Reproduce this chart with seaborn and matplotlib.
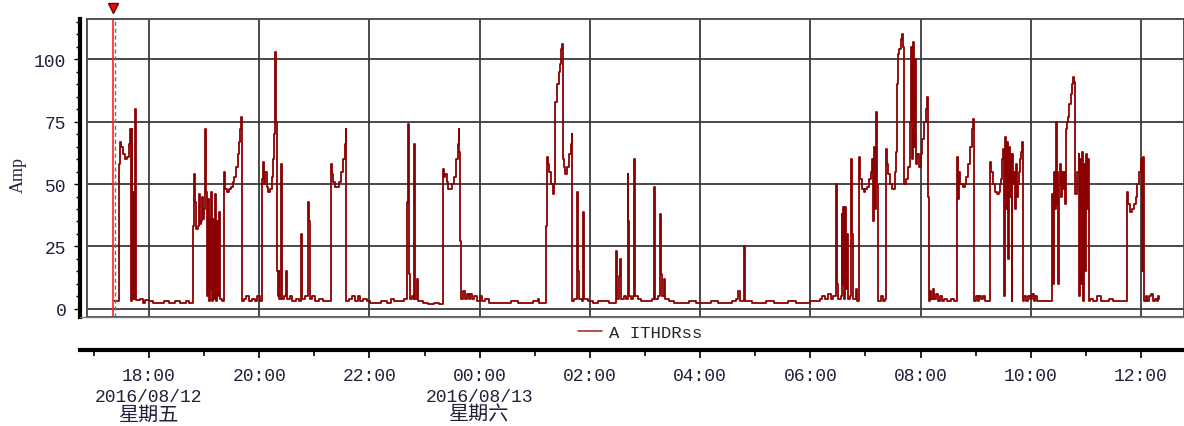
import pandas as pd
import matplotlib
matplotlib.use('Agg')
import matplotlib.pyplot as plt
import matplotlib.transforms as mtransforms
from matplotlib.lines import Line2D
import seaborn as sns

# ITHDRss readings (time of day, Amp)
times = [
    "17:22", "17:26", "17:27", "17:28", "17:30", "17:32", "17:34", "17:36", "17:38", "17:39",
    "17:40", "17:41", "17:42", "17:43", "17:44", "17:45", "17:46", "17:50", "17:53", "17:56",
    "18:00", "18:04", "18:10", "18:16", "18:22", "18:28", "18:34", "18:40", "18:44", "18:48",
    "18:49", "18:50", "18:51", "18:53", "18:54", "18:55", "18:57", "18:58", "18:59", "19:00",
    "19:01", "19:02", "19:03", "19:04", "19:05", "19:06", "19:07", "19:08", "19:09", "19:10",
    "19:11", "19:12", "19:13", "19:14", "19:15", "19:16", "19:17", "19:19", "19:22", "19:23",
    "19:25", "19:27", "19:29", "19:31", "19:33", "19:35", "19:37", "19:38", "19:39", "19:40",
    "19:41", "19:43", "19:46", "19:49", "19:52", "19:55", "19:58", "20:01", "20:03", "20:04",
    "20:05", "20:06", "20:08", "20:10", "20:12", "20:14", "20:15", "20:16", "20:17", "20:18",
    "20:19", "20:20", "20:21", "20:22", "20:24", "20:25", "20:27", "20:29", "20:30", "20:33",
    "20:36", "20:40", "20:43", "20:46", "20:47", "20:50", "20:53", "20:54", "20:55", "20:58",
    "21:01", "21:05", "21:09", "21:13", "21:18", "21:19", "21:20", "21:22", "21:25", "21:27",
    "21:29", "21:31", "21:33", "21:34", "21:35", "21:38", "21:41", "21:44", "21:47", "21:50",
    "21:53", "21:57", "22:01", "22:07", "22:13", "22:19", "22:24", "22:27", "22:33", "22:38",
    "22:41", "22:42", "22:43", "22:44", "22:46", "22:48", "22:49", "22:50", "22:52", "22:53",
    "22:58", "23:04", "23:10", "23:16", "23:20", "23:21", "23:22", "23:24", "23:26", "23:28",
    "23:30", "23:32", "23:34", "23:36", "23:37", "23:38", "23:39", "23:40", "23:42", "23:44",
    "23:46", "23:48", "23:50", "23:52", "23:54", "23:57", "00:00", "00:03", "00:06", "00:10",
    "00:18", "00:26", "00:34", "00:42", "00:50", "00:58", "01:03", "01:05", "01:12", "01:13",
    "01:14", "01:16", "01:18", "01:20", "01:21", "01:22", "01:24", "01:26", "01:27", "01:28",
    "01:29", "01:30", "01:31", "01:32", "01:33", "01:35", "01:37", "01:39", "01:40", "01:41",
    "01:43", "01:46", "01:47", "01:48", "01:51", "01:53", "01:54", "01:58", "02:03", "02:09",
    "02:15", "02:21", "02:28", "02:29", "02:32", "02:33", "02:34", "02:37", "02:39", "02:41",
    "02:42", "02:43", "02:45", "02:47", "02:48", "02:49", "02:52", "02:56", "03:01", "03:05",
    "03:08", "03:10", "03:11", "03:14", "03:16", "03:17", "03:19", "03:21", "03:22", "03:26",
    "03:32", "03:40", "03:48", "03:56", "04:04", "04:12", "04:20", "04:28", "04:35", "04:39",
    "04:41", "04:43", "04:48", "04:49", "04:56", "05:04", "05:12", "05:20", "05:28", "05:36",
    "05:44", "05:52", "06:00", "06:06", "06:10", "06:13", "06:16", "06:19", "06:22", "06:25",
    "06:28", "06:29", "06:30", "06:33", "06:34", "06:35", "06:36", "06:37", "06:38", "06:39",
    "06:40", "06:41", "06:43", "06:44", "06:45", "06:46", "06:50", "06:51", "06:53", "06:54",
    "06:56", "06:58", "07:00", "07:02", "07:04", "07:06", "07:07", "07:08", "07:09", "07:10",
    "07:11", "07:12", "07:13", "07:14", "07:17", "07:19", "07:21", "07:22", "07:23", "07:25",
    "07:27", "07:29", "07:31", "07:32", "07:33", "07:34", "07:35", "07:37", "07:39", "07:40",
    "07:41", "07:42", "07:44", "07:46", "07:48", "07:49", "07:50", "07:51", "07:52", "07:53",
    "07:54", "07:55", "07:56", "07:58", "08:00", "08:02", "08:04", "08:06", "08:07", "08:08",
    "08:09", "08:10", "08:11", "08:13", "08:15", "08:17", "08:19", "08:21", "08:23", "08:26",
    "08:29", "08:33", "08:36", "08:40", "08:41", "08:42", "08:43", "08:46", "08:48", "08:50",
    "08:52", "08:54", "08:56", "08:57", "08:58", "09:00", "09:02", "09:04", "09:06", "09:08",
    "09:10", "09:13", "09:16", "09:17", "09:19", "09:21", "09:23", "09:25", "09:27", "09:28",
    "09:29", "09:30", "09:31", "09:32", "09:33", "09:34", "09:35", "09:36", "09:37", "09:38",
    "09:39", "09:40", "09:41", "09:42", "09:43", "09:44", "09:45", "09:46", "09:47", "09:48",
    "09:49", "09:50", "09:51", "09:53", "09:55", "09:57", "09:59", "10:01", "10:03", "10:05",
    "10:07", "10:11", "10:15", "10:19", "10:23", "10:24", "10:25", "10:26", "10:27", "10:28",
    "10:29", "10:30", "10:31", "10:32", "10:33", "10:34", "10:35", "10:36", "10:37", "10:38",
    "10:39", "10:40", "10:42", "10:44", "10:45", "10:46", "10:47", "10:48", "10:50", "10:52",
    "10:53", "10:54", "10:55", "10:56", "10:57", "10:58", "10:59", "11:00", "11:01", "11:02",
    "11:03", "11:05", "11:08", "11:12", "11:16", "11:20", "11:25", "11:30", "11:35", "11:40",
    "11:45", "11:46", "11:48", "11:50", "11:52", "11:54", "11:56", "11:58", "12:00", "12:01",
    "12:02", "12:03", "12:05", "12:07", "12:09", "12:11", "12:13", "12:15", "12:17", "12:18",
    "12:20",
]
amps = [
    3, 3, 58, 67, 65, 62, 60, 61, 66, 72,
    3, 72, 4, 47, 4, 80, 3.5, 4, 2.5, 3.5,
    3, 2.5, 2.5, 3, 2.5, 3, 2.5, 3, 2.5, 33,
    54, 43, 32, 33, 46, 34, 35, 45, 36, 40,
    72, 47, 5, 44, 3, 36, 8, 47, 3, 36,
    4, 46, 3, 35, 5, 39, 4, 3, 55, 48,
    47, 48, 49, 51, 53, 57, 62, 67, 72, 77,
    3, 4, 5, 3, 4, 3, 5, 3, 52, 59,
    50, 55, 49, 47, 48, 53, 60, 70, 103, 75,
    15, 5, 15, 4, 58, 4, 5, 15, 4, 5,
    3, 4, 3, 30, 4, 5, 43, 35, 4, 5,
    3, 4, 3, 3, 58, 54, 51, 49, 49, 51,
    55, 60, 66, 72, 3, 4, 5, 3, 5, 3,
    4, 3, 2.5, 2.5, 3, 2.5, 4, 3, 3, 4,
    43, 74, 14, 4, 5, 4, 66, 4, 12, 3,
    2.5, 2, 2.5, 2, 56, 53, 54, 51, 48, 48,
    50, 53, 60, 66, 72, 63, 27, 4, 7, 4,
    6, 4, 6, 4, 5, 3, 5, 3, 4, 2.5,
    2.5, 2.5, 3, 2.5, 2.5, 3, 4, 2.5, 33, 61,
    58, 55, 50, 46, 50, 83, 90, 95, 98, 100,
    104, 106, 60, 57, 54, 57, 62, 66, 70, 3,
    4, 47, 15, 4, 3, 39, 4, 3, 2.5, 3,
    3, 2.5, 23, 4, 13, 20, 4, 5, 4, 54,
    35, 5, 4, 5, 60, 5, 4, 3, 3, 3,
    4, 49, 4, 5, 38, 14, 5, 12, 4, 3,
    2.5, 2.5, 3, 2.5, 2.5, 3, 2.5, 2.5, 3, 4,
    7, 3, 25, 3, 2.5, 2.5, 3, 2.5, 2.5, 3,
    2.5, 2.5, 3, 3, 4, 5, 4, 6, 4, 5,
    50, 10, 4, 5, 38, 10, 41, 4, 41, 8,
    30, 4, 5, 60, 30, 4, 8, 3, 61, 52,
    48, 47, 48, 49, 52, 55, 60, 35, 65, 40,
    70, 79, 50, 3, 5, 3, 4, 64, 58, 54,
    50, 48, 48, 55, 63, 90, 102, 104, 108, 110,
    105, 50, 52, 57, 63, 75, 105, 60, 107, 65,
    100, 58, 62, 57, 62, 68, 75, 80, 85, 45,
    3, 7, 4, 8, 4, 6, 3, 5, 3, 4,
    3, 4, 3, 61, 44, 55, 50, 49, 50, 53,
    58, 65, 72, 76, 3, 5, 3, 5, 4, 5,
    3, 3, 59, 55, 50, 47, 46, 47, 50, 52,
    60, 64, 5, 69, 40, 67, 20, 65, 45, 62,
    3, 62, 50, 55, 40, 58, 45, 50, 55, 60,
    63, 67, 3, 5, 3, 5, 4, 6, 3, 5,
    3, 3, 3, 3, 46, 10, 55, 40, 75, 42,
    55, 10, 50, 58, 45, 55, 48, 55, 42, 72,
    75, 77, 82, 86, 90, 93, 91, 46, 55, 62,
    5, 60, 10, 63, 3, 58, 15, 62, 40, 60,
    3, 4, 3, 5, 3, 3, 4, 3, 3, 3,
    47, 42, 39, 40, 42, 45, 50, 55, 60, 15,
    61, 3, 5, 3, 5, 6, 3, 4, 3, 5,
    4,
]
series_name = "A ITHDRss"
y_ticks = [0, 25, 50, 75, 100]
cursor_time = "17:21"
day_labels = {"18:00": ("2016/08/12", "星期五"), "00:00": ("2016/08/13", "星期六")}


def to_stamp(hhmm):
    day = "2016-08-12" if int(hhmm[:2]) >= 16 else "2016-08-13"
    return pd.Timestamp(f"{day} {hhmm}")


df = pd.DataFrame({"time": [to_stamp(t) for t in times], "amp": amps})

sns.set_theme(style="white")
plt.rcParams["font.family"] = ["Liberation Mono", "Noto Sans CJK SC"]

W, H = 1184, 427
fig = plt.figure(figsize=(W / 100, H / 100), dpi=100)

x_left = pd.Timestamp("2016-08-12 16:52:30")
x_left_axis = pd.Timestamp("2016-08-12 16:44:54")
x_right = pd.Timestamp("2016-08-13 12:46:48")

# main plot area
ax = fig.add_axes([87 / W, 1 - 318 / H, 1 - 87 / W, (318 - 20) / H])
sns.lineplot(data=df, x="time", y="amp", ax=ax, color="#8b0000", lw=1.3,
             drawstyle="steps-post", estimator=None, label=series_name, legend=False)
ax.set_xlim(x_left, x_right)
ax.set_ylim(-3.3, 116.2)
ax.set_xlabel("")
ax.set_ylabel("")

grid_times = pd.date_range("2016-08-12 18:00", "2016-08-13 12:00", freq="2h")
ax.set_xticks(grid_times)
ax.tick_params(axis="x", length=0, labelbottom=False)
ax.grid(True, color="#3a3a3a", lw=1.3)
ax.set_axisbelow(True)

ax.set_yticks(y_ticks)
ax.set_yticks(range(0, 116, 5), minor=True)
ax.tick_params(axis="y", which="major", direction="out", length=4, width=1,
               color="black", labelsize=13, labelcolor="#20203a", pad=6, left=True)
ax.tick_params(axis="y", which="minor", direction="out", length=3, width=1,
               color="black", left=True)
for side in ["top", "right", "bottom"]:
    ax.spines[side].set_color("#444444")
    ax.spines[side].set_linewidth(1.3)
ax.spines["left"].set_position(("outward", 5))
ax.spines["left"].set_linewidth(3)
ax.spines["left"].set_color("black")
ax.plot([0, 0], [0, 1], transform=ax.transAxes, color="#444444", lw=1.3, clip_on=False)

# cursor marker
cur = to_stamp(cursor_time)
ax.axvline(cur, color="#ff2020", lw=1.2)
ax.axvline(cur + pd.Timedelta(minutes=2), color="#707070", lw=1, ls=(0, (3, 2)))
ax.plot([cur], [120.5], marker="v", color="#e01010", markeredgecolor="#700000",
        markersize=7, clip_on=False)

fig.text(18 / W, 1 - 175 / H, "Amp", rotation=90, ha="center", va="center",
         fontsize=13, family="Liberation Serif", color="#20203a")

# separator line under plot
fig.add_artist(Line2D([80 / W, 1], [1 - 318 / H, 1 - 318 / H], color="#777777", lw=1))

# legend
fig.legend(handles=[Line2D([], [], color="#b03030", lw=1.2)], labels=[series_name],
           loc="center", bbox_to_anchor=(640 / W, 1 - 333 / H), frameon=False,
           fontsize=12.5, handlelength=1.4, handletextpad=0.4, borderpad=0)

# time axis below
ax2 = fig.add_axes([80 / W, 1 - 351 / H, 1 - 80 / W, 0.0001])
ax2.set_xlim(x_left_axis, x_right)
ax2.set_yticks([])
for side in ["top", "left", "right"]:
    ax2.spines[side].set_visible(False)
ax2.spines["bottom"].set_linewidth(3)
ax2.spines["bottom"].set_color("black")
ax2.set_xticks(grid_times)
ax2.set_xticks(pd.date_range("2016-08-12 17:00", "2016-08-13 12:00", freq="1h"), minor=True)
labels = []
for t in grid_times:
    lab = t.strftime("%H:%M")
    if lab in day_labels:
        lab += "\n" + day_labels[lab][0]
    labels.append(lab)
ax2.set_xticklabels(labels, linespacing=1.3)
ax2.tick_params(axis="x", which="major", direction="out", length=6, width=1.2,
                color="black", labelsize=13, labelcolor="#20203a", pad=6, bottom=True)
ax2.tick_params(axis="x", which="minor", direction="out", length=4, width=1.2,
                color="black", bottom=True)
ax2.set_facecolor("none")

# weekday names, a little larger as in the original
trans = mtransforms.blended_transform_factory(ax2.transData, fig.transFigure)
for hhmm, (date_txt, weekday) in day_labels.items():
    ax2.text(to_stamp(hhmm), 1 - 415 / H, weekday, transform=trans, ha="center",
             va="center", fontsize=14.5, color="#20203a", family="Noto Sans CJK SC")

fig.savefig("out.png", dpi=100)
